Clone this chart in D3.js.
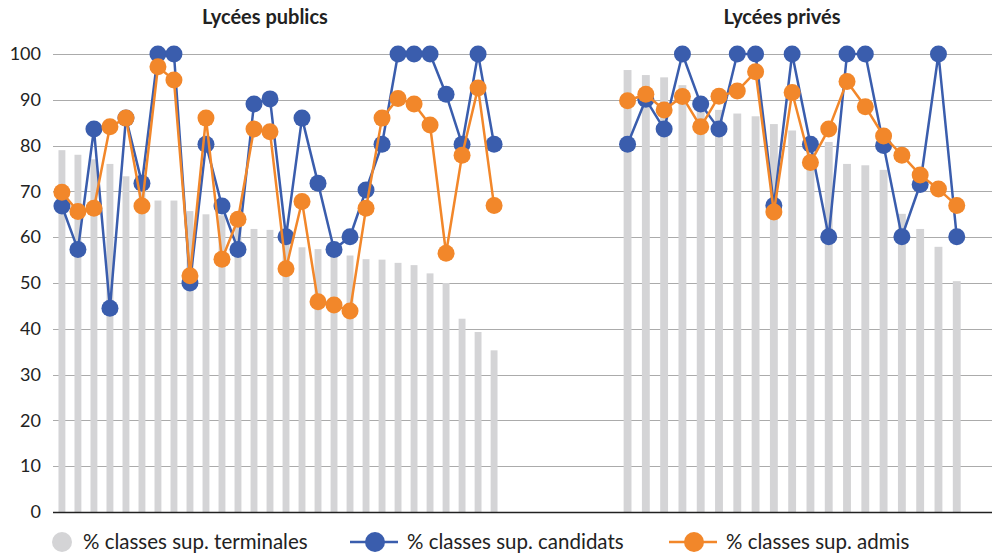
<!DOCTYPE html>
<html>
<head>
<meta charset="utf-8">
<script src="https://cdn.jsdelivr.net/npm/d3@7"></script>
<style>
  body { margin: 0; background: #fff; }
  text { font-family: Lato, "Noto Sans", sans-serif; fill: #222; }
</style>
</head>
<body>
<div id="chart-area"></div>
<script>
// Données
const groupes = ["Lycées publics", "Lycées privés"];

const terminalesPublics = [79, 78, 77, 76, 73.3, 70, 68, 68, 65.7, 65, 64.8, 63, 61.8, 61.6,
    59.5, 57.8, 57.4, 56.8, 56, 55.2, 55.1, 54.4, 53.9, 52.1, 50, 42.2, 39.3, 35.3];
const candidatsPublics = [66.8, 57.3, 83.6, 44.5, 86, 71.8, 100, 100, 50, 80.3, 66.8, 57.3, 89.1, 90.2,
    60.1, 86, 71.8, 57.3, 60.1, 70.3, 80.3, 100, 100, 100, 91.2, 80.3, 100, 80.3];
const admisPublics = [69.8, 65.6, 66.3, 84.1, 86, 66.8, 97.2, 94.3, 51.6, 86, 55.2, 63.9, 83.6, 83,
    53.1, 67.8, 45.9, 45.2, 43.9, 66.3, 86, 90.3, 89.1, 84.5, 56.5, 77.9, 92.6, 66.9];

const terminalesPrives = [96.5, 95.4, 94.9, 93.2, 89, 87.8, 87, 86.4, 84.7, 83.3, 82.1, 80.8, 76,
    75.7, 74.7, 65.1, 61.8, 57.9, 50.4];
const candidatsPrives = [80.3, 90.1, 83.6, 100, 89.1, 83.6, 100, 100, 66.9, 100, 80.3, 60.1, 100,
    100, 80, 60.1, 71.5, 100, 60.1];
const admisPrives = [89.8, 91.2, 87.8, 90.7, 84.1, 90.8, 91.9, 96.1, 65.5, 91.6, 76.3, 83.6, 94,
    88.5, 82.1, 77.9, 73.6, 70.5, 66.9];

const yTicks = [0, 10, 20, 30, 40, 50, 60, 70, 80, 90, 100];
const legende = ["% classes sup. terminales", "% classes sup. candidats", "% classes sup. admis"];

const couleurs = { barre: "#d4d4d6", candidats: "#3a5dad", admis: "#f2872a", grille: "#ababab" };

const width = 992, height = 556;

const svg = d3.select("#chart-area")
    .append("svg")
    .attr("width", width)
    .attr("height", height);

// Escala vertical común
const y = d3.scaleLinear()
    .domain([0, 100])
    .range([512, 54]);

// Cada grupo tiene su propio eje de categorías
const paneles = [
    { titre: groupes[0], term: terminalesPublics, cand: candidatsPublics, adm: admisPublics, range: [54, 502], titreX: 265 },
    { titre: groupes[1], term: terminalesPrives, cand: candidatsPrives, adm: admisPrives, range: [618.5, 965.8], titreX: 782 }
];

// Líneas de la cuadrícula
svg.append("g")
    .selectAll("line")
    .data(yTicks.filter(d => d > 0))
    .join("line")
    .attr("x1", 53)
    .attr("x2", width)
    .attr("y1", d => Math.round(y(d)) + 0.5)
    .attr("y2", d => Math.round(y(d)) + 0.5)
    .attr("stroke", couleurs.grille)
    .attr("stroke-width", 1);

// Eje Y
const yAxis = svg.append("g")
    .attr("transform", "translate(41,0)")
    .call(d3.axisLeft(y).tickValues(yTicks).tickSize(0).tickPadding(0));
yAxis.select(".domain").remove();
yAxis.selectAll("text")
    .attr("font-size", 18)
    .attr("text-anchor", "end")
    .attr("fill", "#222");

paneles.forEach(p => {
    const idx = d3.range(p.term.length);
    const x = d3.scaleBand()
        .domain(idx)
        .range(p.range)
        .paddingInner(0.57)
        .paddingOuter(0.28);
    const cx = i => x(i) + x.bandwidth() / 2;

    const g = svg.append("g");

    // Barras
    g.selectAll("rect")
        .data(idx)
        .join("rect")
        .attr("x", i => x(i))
        .attr("y", i => y(p.term[i]))
        .attr("width", x.bandwidth())
        .attr("height", i => y(0) - y(p.term[i]))
        .attr("fill", couleurs.barre);

    // Líneas + puntos
    [["cand", couleurs.candidats], ["adm", couleurs.admis]].forEach(([key, col]) => {
        const vals = p[key];
        const line = d3.line()
            .x((d, i) => cx(i))
            .y(d => y(d));
        g.append("path")
            .datum(vals)
            .attr("d", line)
            .attr("fill", "none")
            .attr("stroke", col)
            .attr("stroke-width", 2.5)
            .attr("stroke-linejoin", "round");
        g.selectAll("circle." + key)
            .data(vals)
            .join("circle")
            .attr("class", key)
            .attr("cx", (d, i) => cx(i))
            .attr("cy", d => y(d))
            .attr("r", 8.5)
            .attr("fill", col);
    });

    // Título del grupo
    svg.append("text")
        .attr("x", p.titreX)
        .attr("y", 24)
        .attr("text-anchor", "middle")
        .attr("font-size", 20)
        .attr("font-weight", "bold")
        .text(p.titre);
});

// Eje X (línea base)
svg.append("line")
    .attr("x1", 53)
    .attr("x2", width)
    .attr("y1", y(0) + 0.5)
    .attr("y2", y(0) + 0.5)
    .attr("stroke", "#222")
    .attr("stroke-width", 1.5);

// Leyenda
const leg = svg.append("g").attr("transform", "translate(0,542)");
leg.append("circle").attr("cx", 62).attr("cy", 0).attr("r", 10).attr("fill", couleurs.barre);
leg.append("text").attr("x", 83).attr("y", 7).attr("font-size", 20.5).text(legende[0]);

[[375, couleurs.candidats, legende[1]], [694, couleurs.admis, legende[2]]].forEach(([cx, col, label]) => {
    leg.append("line")
        .attr("x1", cx - 25).attr("x2", cx + 23)
        .attr("y1", 0).attr("y2", 0)
        .attr("stroke", col).attr("stroke-width", 2.5);
    leg.append("circle").attr("cx", cx).attr("cy", 0).attr("r", 10).attr("fill", col);
    leg.append("text").attr("x", cx + 32).attr("y", 7).attr("font-size", 20.5).text(label);
});
</script>
</body>
</html>
